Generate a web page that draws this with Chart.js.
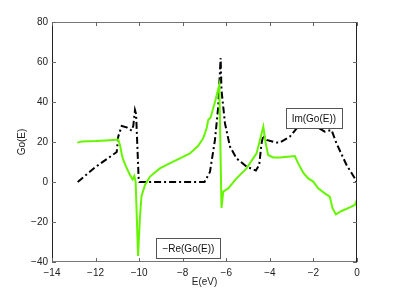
<!DOCTYPE html>
<html>
<head>
<meta charset="utf-8">
<script src="https://cdn.jsdelivr.net/npm/chart.js@4/dist/chart.umd.min.js"></script>
<style>
  html, body { margin: 0; padding: 0; background: #fff; }
</style>
</head>
<body>
<canvas id="chart" width="395" height="296"></canvas>
<script>
// -Re(Go(E)) curve, green
const reE = [-12.84, -12.6, -12.0, -11.5, -10.96, -10.88, -10.8, -10.73, -10.6, -10.42,
  -10.3, -10.22, -10.16, -10.05, -9.96, -9.89, -9.73, -9.5, -9.05, -8.6,
  -8.13, -7.67, -7.3, -7.06, -6.9, -6.83, -6.72, -6.52, -6.32, -6.22,
  -6.14, -5.91, -5.53, -5.07, -4.61, -4.3, -4.2, -4.08, -3.85, -3.54,
  -2.85, -2.7, -2.47, -2.24, -2.01, -1.78, -1.48, -1.25, -1.12, -0.97,
  -0.71, -0.33, -0.1, 0];
const reVal = [19.7, 20.3, 20.5, 20.8, 21.2, 18.5, 14, 11, 7.7, 3.5,
  1.3, 3, 0, -37, -17, -7, -1.5, 2.7, 6.8, 9.3,
  11.8, 14.3, 18, 21.8, 27, 31, 32.3, 40, 48.5, -13,
  -4.8, -3.2, 1.8, 6.8, 14.3, 27.7, 20, 13.5, 12.3, 12.3,
  13, 9.3, 4.7, 1.8, 0.2, -3.2, -5.7, -7.3, -13.2, -16.2,
  -14.5, -12.7, -11.5, -9];

// Im(Go(E)) curve, black dash-dot
const imE = [-12.82, -12.0, -11.03, -10.96, -10.8, -10.57, -10.34, -10.27, -10.19, -10.14,
  -10.02, -9.99, -7.0, -6.75, -6.52, -6.37, -6.26, -6.22, -6.06, -5.83,
  -5.53, -5.07, -4.64, -4.49, -4.38, -4.3, -4.15, -3.69, -3.54, -3.08,
  -2.77, -2.39, -1.86, -1.48, -1.17, -0.94, -0.48, -0.1, -0.05];
const imVal = [0, 7.5, 15, 22.7, 28, 27.3, 25.7, 28, 36, 34,
  1, 0, 0, 5, 21, 37.7, 62, 46, 29.3, 17.7,
  11.8, 7.7, 5.7, 8.5, 19.3, 23.5, 21, 19.7, 19.7, 22.7,
  26.8, 28.5, 27.7, 25.2, 26, 19.3, 8.5, 1.8, 0];

const xTicks = [-14, -12, -10, -8, -6, -4, -2, 0];
const yTicks = [-40, -20, 0, 20, 40, 60, 80];

// boxed labels, placed in data coordinates
const labels = [
  { text: "Im(Go(E))", x: -1.98, y: 32 },
  { text: "\u2212Re(Go(E))", x: -7.74, y: -33 },
];

const FONT = "Liberation Sans, Arial, Helvetica, sans-serif";
const minus = (v) => (v < 0 ? "\u2212" + Math.abs(v) : String(v));
const pts = (xs, ys) => xs.map((x, i) => ({ x, y: ys[i] }));

// MATLAB-style frame with inward ticks on all four sides, plus text boxes
const framePlugin = {
  id: "frame",
  afterDraw(chart) {
    const { ctx, chartArea: a, scales } = chart;
    ctx.save();
    ctx.lineWidth = 1;
    ctx.strokeStyle = "#777";
    ctx.beginPath();
    ctx.moveTo(a.left, a.top + 0.5); ctx.lineTo(a.right, a.top + 0.5);
    ctx.moveTo(a.left, a.bottom - 0.5); ctx.lineTo(a.right, a.bottom - 0.5);
    ctx.stroke();
    ctx.strokeStyle = "#222";
    ctx.beginPath();
    ctx.moveTo(a.left + 0.5, a.top); ctx.lineTo(a.left + 0.5, a.bottom);
    ctx.moveTo(a.right - 0.5, a.top); ctx.lineTo(a.right - 0.5, a.bottom);
    ctx.stroke();

    const tl = 4;
    ctx.strokeStyle = "#666";
    ctx.beginPath();
    xTicks.forEach((v) => {
      const px = Math.round(scales.x.getPixelForValue(v)) + 0.5;
      ctx.moveTo(px, a.bottom); ctx.lineTo(px, a.bottom - tl);
      ctx.moveTo(px, a.top); ctx.lineTo(px, a.top + tl);
    });
    yTicks.forEach((v) => {
      const py = Math.round(scales.y.getPixelForValue(v)) + 0.5;
      ctx.moveTo(a.left, py); ctx.lineTo(a.left + tl, py);
      ctx.moveTo(a.right, py); ctx.lineTo(a.right - tl, py);
    });
    ctx.stroke();

    ctx.font = "10px " + FONT;
    ctx.textAlign = "center";
    ctx.textBaseline = "middle";
    labels.forEach((l) => {
      const cx = scales.x.getPixelForValue(l.x);
      const cy = scales.y.getPixelForValue(l.y);
      const w = Math.round(ctx.measureText(l.text).width + 12);
      const h = 20;
      const x0 = Math.round(cx - w / 2) + 0.5;
      const y0 = Math.round(cy - h / 2) + 0.5;
      ctx.fillStyle = "#fff";
      ctx.fillRect(x0, y0, w, h);
      ctx.strokeStyle = "#555";
      ctx.strokeRect(x0, y0, w, h);
      ctx.fillStyle = "#111";
      ctx.fillText(l.text, cx, cy + 1);
    });
    ctx.restore();
  },
};

new Chart(document.getElementById("chart"), {
  type: "line",
  data: {
    datasets: [
      {
        label: "-Re(Go(E))",
        data: pts(reE, reVal),
        borderColor: "#66f500",
        borderWidth: 2,
        pointRadius: 0,
        tension: 0,
      },
      {
        label: "Im(Go(E))",
        data: pts(imE, imVal),
        borderColor: "#000",
        borderWidth: 2,
        borderDash: [7, 3, 2, 3],
        pointRadius: 0,
        tension: 0,
      },
    ],
  },
  options: {
    responsive: false,
    animation: false,
    devicePixelRatio: 1,
    layout: { padding: { left: 0, top: 22, right: 38, bottom: 0 } },
    plugins: { legend: { display: false }, tooltip: { enabled: false } },
    scales: {
      x: {
        type: "linear",
        min: -14,
        max: 0,
        afterFit: (s) => { s.height = 34; },
        afterBuildTicks: (s) => { s.ticks = xTicks.map((v) => ({ value: v })); },
        grid: { display: false, drawTicks: false },
        border: { display: false },
        ticks: {
          padding: 5,
          color: "#222",
          font: { family: FONT, size: 10 },
          maxRotation: 0,
          callback: (v) => minus(v),
        },
        title: {
          display: true,
          text: "E(eV)",
          color: "#222",
          font: { family: FONT, size: 10 },
          padding: { top: 0, bottom: 8 },
        },
      },
      y: {
        type: "linear",
        min: -40,
        max: 80,
        afterFit: (s) => { s.width = 52; },
        afterBuildTicks: (s) => { s.ticks = yTicks.map((v) => ({ value: v })); },
        grid: { display: false, drawTicks: false },
        border: { display: false },
        ticks: {
          padding: 4,
          color: "#222",
          font: { family: FONT, size: 10 },
          callback: (v) => minus(v),
        },
        title: {
          display: true,
          text: "Go(E)",
          color: "#222",
          font: { family: FONT, size: 10 },
          padding: { top: 16, bottom: 0 },
        },
      },
    },
  },
  plugins: [framePlugin],
});
</script>
</body>
</html>
